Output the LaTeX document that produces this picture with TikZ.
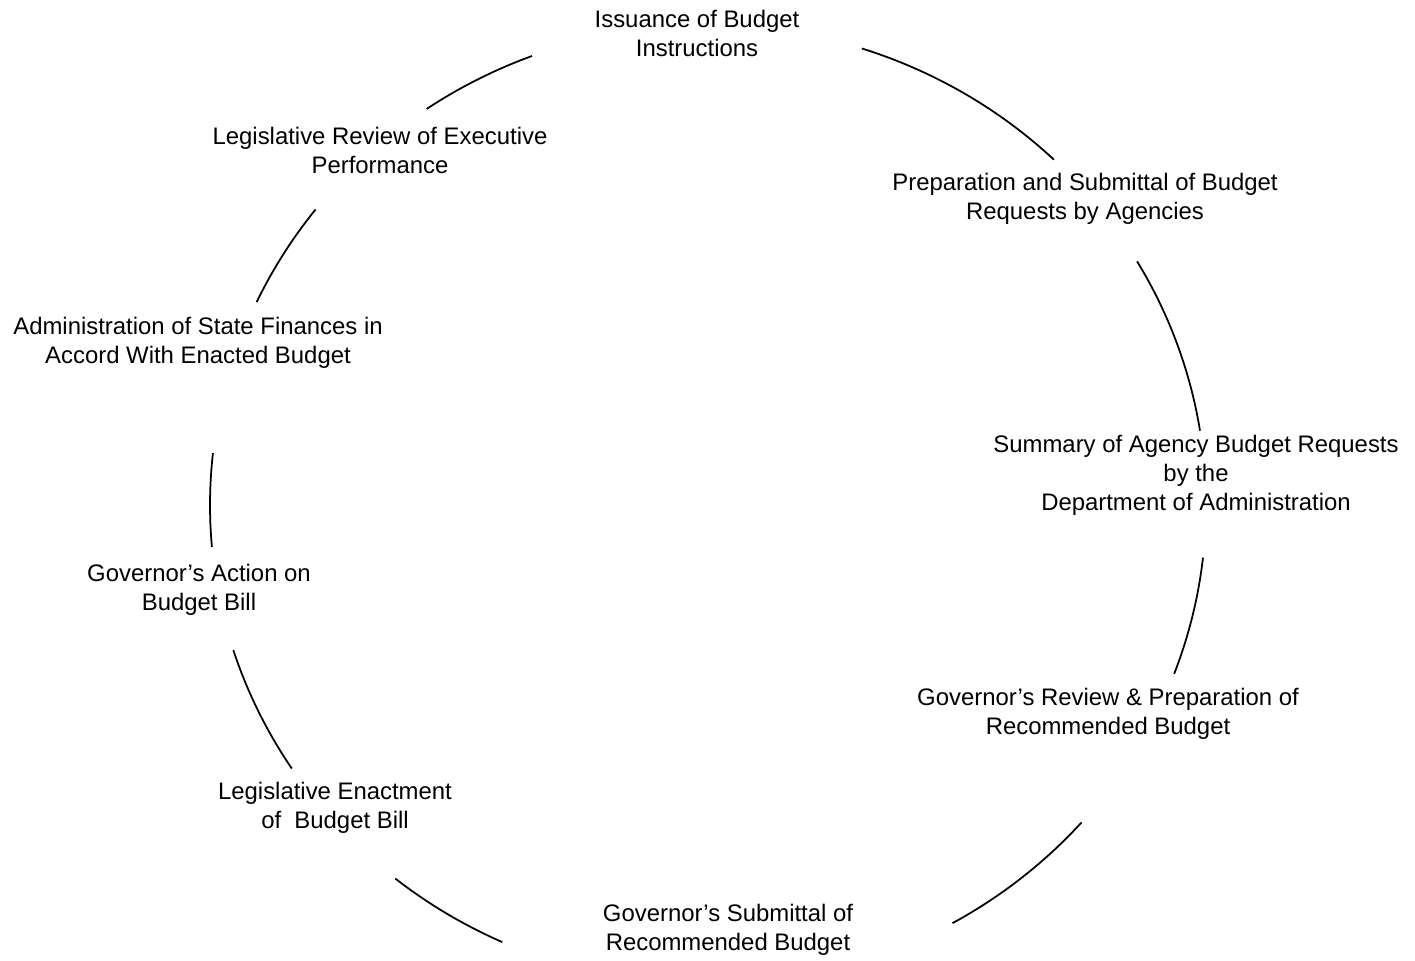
\documentclass[tikz,border=0pt]{standalone}
\usepackage{fontspec}
\setmainfont{Liberation Sans}
\usetikzlibrary{positioning}

\tikzset{
  stage/.style={align=center, inner sep=0pt, font=\fontsize{13.6}{16.5}\selectfont},
  ring/.style={line width=1pt, x radius=9.96cm, y radius=9.6cm}
}

\begin{document}
\begin{tikzpicture}
  \useasboundingbox (0,0) rectangle (28.3,19.2);
  \coordinate (ctr) at (14.16,9.10);

  % the stages of the budget cycle
  \node (issue)  [stage] at (13.94,18.54) {Issuance of Budget\\Instructions};
  \node (prep)   [stage] at (21.70,15.22) {Preparation and Submittal of Budget\\Requests by Agencies};
  \node (summ)   [stage] at (23.92,9.70) {Summary of Agency Budget Requests\\by the\\Department of Administration};
  \node (review) [stage] at (22.16,4.92) {Governor's Review \& Preparation of\\Recommended Budget};
  \node (submit) [stage] at (14.56,0.60) {Governor's Submittal of\\Recommended Budget};
  \node (enact)  [stage] at (6.70,3.04) {Legislative Enactment\\of~~Budget Bill};
  \node (action) [stage] at (3.98,7.40) {Governor's Action on\\Budget Bill};
  \node (admin)  [stage] at (3.96,12.34) {Administration of State Finances in\\Accord With Enacted Budget};
  \node (legrev) [stage] at (7.60,16.20) {Legislative Review of Executive\\Performance};

  % arcs of the cycle
  \draw [ring] ([shift={(72:9.96cm and 9.6cm)}]ctr) arc [start angle=72, end angle=46];
  \draw [ring] ([shift={(30.5:9.96cm and 9.6cm)}]ctr) arc [start angle=30.5, end angle=8.9];
  \draw [ring] ([shift={(-6.3:9.96cm and 9.6cm)}]ctr) arc [start angle=-6.3, end angle=-20.6];
  \draw [ring] ([shift={(-41.4:9.96cm and 9.6cm)}]ctr) arc [start angle=-41.4, end angle=-60.6];
  \draw [ring] ([shift={(-114.4:9.96cm and 9.6cm)}]ctr) arc [start angle=-114.4, end angle=-128.9];
  \draw [ring] ([shift={(-146.7:9.96cm and 9.6cm)}]ctr) arc [start angle=-146.7, end angle=-162.4];
  \draw [ring] ([shift={(-175:9.96cm and 9.6cm)}]ctr) arc [start angle=-175, end angle=-186.2];
  \draw [ring] ([shift={(-205:9.96cm and 9.6cm)}]ctr) arc [start angle=-205, end angle=-218];
  \draw [ring] ([shift={(-235.6:9.96cm and 9.6cm)}]ctr) arc [start angle=-235.6, end angle=-249.3];
\end{tikzpicture}
\end{document}
